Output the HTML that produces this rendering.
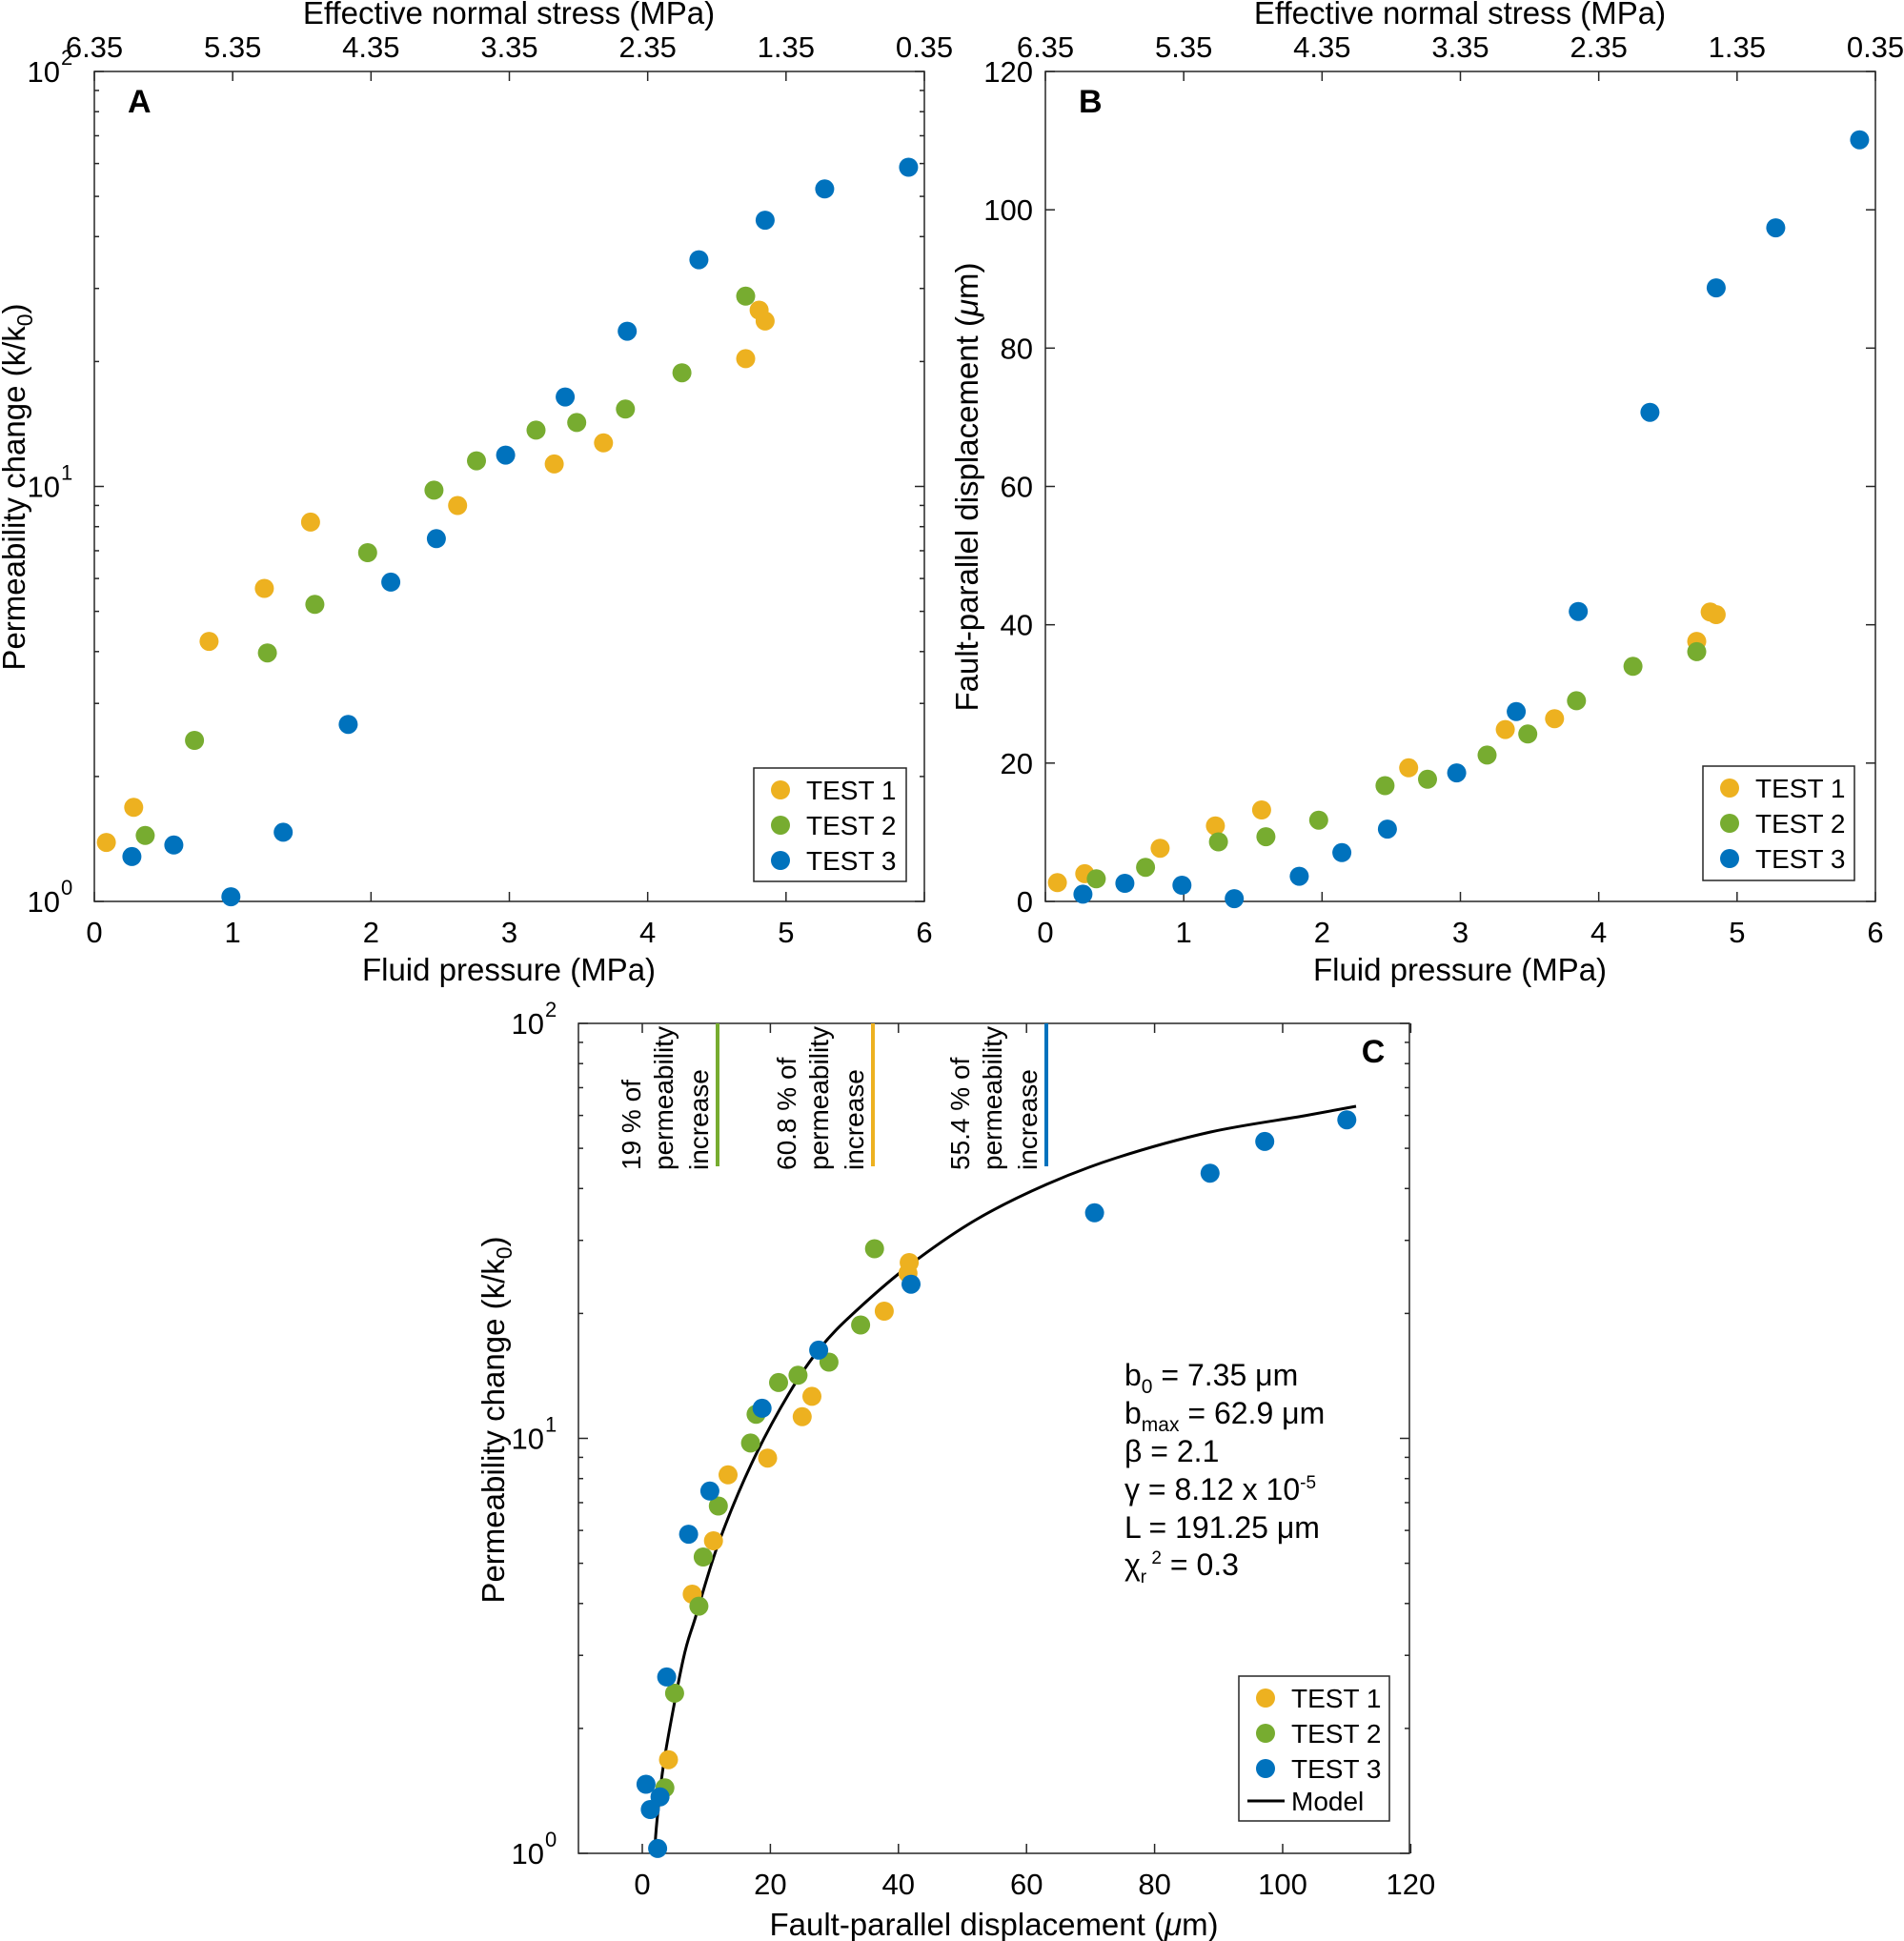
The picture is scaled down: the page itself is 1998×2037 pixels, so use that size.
<!DOCTYPE html>
<html><head><meta charset="utf-8">
<style>
html,body{margin:0;padding:0;background:#fff;}
svg{display:block;font-family:"Liberation Sans",Arial,sans-serif;}
</style></head>
<body>
<svg id="s" width="1998" height="2037" viewBox="0 0 1998 2037" xmlns="http://www.w3.org/2000/svg"></svg>
<script>
const S=document.getElementById('s');
let h='';
const O='#EDB120',G='#77AC30',B='#0072BD';
const TF=31,AF=33;
function line(x1,y1,x2,y2,c,w){h+=`<line x1="${x1}" y1="${y1}" x2="${x2}" y2="${y2}" stroke="${c||'#262626'}" stroke-width="${w||1.5}"/>`;}
function text(x,y,t,o){o=o||{};h+=`<text x="${x}" y="${y}" font-size="${o.fs||TF}" text-anchor="${o.a||'middle'}" fill="#000" ${o.w?'font-weight="bold"':''}>${t}</text>`;}
function dot(x,y,c){h+=`<circle cx="${x.toFixed(1)}" cy="${y.toFixed(1)}" r="10" fill="${c}"/>`;}
function logLbl(L,y,d){h+=`<text x="${L-36}" y="${y+11}" font-size="${TF}" text-anchor="end">10</text><text x="${L-35}" y="${y-7}" font-size="22" text-anchor="start">${d}</text>`;}

function panelAB(L,isLog,label){
  const R=L+871,T=75,Bt=946;
  h+=`<rect x="${L}" y="${T}" width="871" height="871" fill="none" stroke="#262626" stroke-width="1.5"/>`;
  for(let i=0;i<=6;i++){
    const x=L+i*871/6;
    line(x,Bt,x,Bt-10);line(x,T,x,T+10);
    text(x,989,String(i));
    text(x,60,(6.35-i).toFixed(2));
  }
  text(L+435,1029,'Fluid pressure (MPa)',{fs:AF});
  text(L+435,25,'Effective normal stress (MPa)',{fs:AF});
  if(isLog){
    for(let d=0;d<=2;d++){
      const y=Bt-d*435.5;
      line(L,y,L+10,y);line(R,y,R-10,y);
      logLbl(L,y,d);
      if(d<2)for(let m=2;m<=9;m++){const yy=y-Math.log10(m)*435.5;line(L,yy,L+5,yy);line(R,yy,R-5,yy);}
    }
    h+=`<text font-size="${AF}" text-anchor="middle" transform="translate(26,511) rotate(-90)">Permeability change (k/k<tspan font-size="23" dy="8">0</tspan><tspan dy="-8">)</tspan></text>`;
  } else {
    for(let v=0;v<=120;v+=20){
      const y=Bt-v*871/120;
      line(L,y,L+10,y);line(R,y,R-10,y);
      text(L-13,y+11,String(v),{a:'end'});
    }
    h+=`<text font-size="${AF}" text-anchor="middle" transform="translate(${L-71},511) rotate(-90)">Fault-parallel displacement (<tspan font-style="italic">μ</tspan>m)</text>`;
  }
  text(L+35,118,label,{fs:34,w:1,a:'start'});
}
panelAB(99,true,'A');
panelAB(1097,false,'B');

const A={O:[[175,1320],[220,1265],[344,1005],[435,922],[511,818],[753,792],[912,727],[993,694],[1227,562],[1249,486],[1259,503]],
G:[[239,1309],[320,1160],[440,1023],[518,947],[605,866],[714,768],[784,722],[882,674],[949,662],[1029,641],[1122,584],[1227,464]],
B:[[217,1342],[286,1324],[380,1405],[466,1304],[573,1135],[643,912],[718,844],[832,713],[930,622],[1032,519],[1150,407],[1259,345],[1357,296],[1495,262]]};
const Bd={O:[[175,1383],[220,1369],[344,1329],[435,1294],[511,1269],[753,1203],[912,1143],[993,1126],[1227,1005],[1249,959],[1259,963]],
G:[[239,1377],[320,1359],[440,1319],[518,1311],[605,1285],[714,1231],[784,1221],[882,1183],[949,1150],[1029,1098],[1122,1044],[1227,1021]],
B:[[217,1401],[286,1384],[380,1387],[466,1408],[573,1373],[643,1336],[718,1299],[832,1211],[930,1115],[1032,958],[1150,646],[1259,451],[1357,357],[1495,219]]};
const col={O:O,G:G,B:B};
for(const k of ['O','G','B']){
  A[k].forEach(p=>dot(p[0]/1.568,p[1]/1.493,col[k]));
  Bd[k].forEach(p=>dot(998+p[0]/1.568,p[1]/1.493,col[k]));
}
function legend(x,y,w,hh,model){
  h+=`<rect x="${x}" y="${y}" width="${w}" height="${hh}" fill="#fff" stroke="#262626" stroke-width="1.5"/>`;
  const items=[[O,'TEST 1'],[G,'TEST 2'],[B,'TEST 3']];
  items.forEach((it,i)=>{const yy=y+23+i*37;dot(x+28,yy,it[0]);text(x+55,yy+10,it[1],{fs:28,a:'start'});});
  if(model){const yy=y+23+3*36;line(x+9,yy,x+48,yy,'#000',3);text(x+55,yy+10,'Model',{fs:28,a:'start'});}
}
legend(791,806,160,119,false);
legend(1787,804,159,120,false);

{
  const L=607,R=1479,T=1074,Bt=1945;
  h+=`<rect x="${L}" y="${T}" width="${R-L}" height="${Bt-T}" fill="none" stroke="#262626" stroke-width="1.5"/>`;
  const px=v=>674+v*6.72;
  const ys=(Bt-T)/2;
  for(let v=0;v<=120;v+=20){const x=px(v);line(x,Bt,x,Bt-10);line(x,T,x,T+10);text(x,1988,String(v));}
  for(let d=0;d<=2;d++){
    const y=Bt-d*ys;
    line(L,y,L+10,y);line(R,y,R-10,y);
    logLbl(L,y,d);
    if(d<2)for(let m=2;m<=9;m++){const yy=y-Math.log10(m)*ys;line(L,yy,L+5,yy);line(R,yy,R-5,yy);}
  }
  h+=`<text font-size="${AF}" text-anchor="middle" transform="translate(529,1490) rotate(-90)">Permeability change (k/k<tspan font-size="23" dy="8">0</tspan><tspan dy="-8">)</tspan></text>`;
  text(1043,2031,'Fault-parallel displacement (<tspan font-style="italic">μ</tspan>m)',{fs:AF});
  text(1441,1115,'C',{fs:34,w:1});
  const marks=[[753,G,'19 % of'],[916,O,'60.8 % of'],[1098,B,'55.4 % of']];
  marks.forEach(m=>{
    line(m[0],T,m[0],1224,m[1],4);
    const lines=[m[2],'permeability','increase'];
    const off=[-81,-47,-10];
    lines.forEach((t,i)=>{h+=`<text font-size="28" text-anchor="start" transform="translate(${m[0]+off[i]},1228) rotate(-90)">${t}</text>`;});
  });
  const P=[[687,1941],[690,1905],[697.7,1843],[716.8,1742],[729.6,1698],[753.8,1620],[788.2,1537],[827.6,1463],[862,1413],[901.3,1373],[955.5,1327],[1024.3,1280],[1098.1,1243],[1171.9,1215],[1270.3,1188],[1368.6,1171],[1423,1161]];
  let d=`M${P[0][0]},${P[0][1]}`;
  for(let i=0;i<P.length-1;i++){
    const p0=P[Math.max(0,i-1)],p1=P[i],p2=P[i+1],p3=P[Math.min(P.length-1,i+2)];
    const c1=[p1[0]+(p2[0]-p0[0])/6,p1[1]+(p2[1]-p0[1])/6];
    const c2=[p2[0]-(p3[0]-p1[0])/6,p2[1]-(p3[1]-p1[1])/6];
    d+=` C${c1[0].toFixed(1)},${c1[1].toFixed(1)} ${c2[0].toFixed(1)},${c2[1].toFixed(1)} ${p2[0]},${p2[1]}`;
  }
  h+=`<path d="${d}" fill="none" stroke="#000" stroke-width="3"/>`;
  const C={O:[[316,1266],[355,990],[390,901],[414,791],[479,763],[536,694],[552,660],[671,518],[712,437],[710,455]],
  G:[[310,1313],[326,1155],[366,1010],[373,928],[398,843],[451,738],[460,690],[497,637],[529,625],[580,603],[632,541],[655,414]],
  B:[[279,1307],[286,1349],[302,1328],[298,1414],[313,1128],[349,890],[384,818],[470,680],[563,583],[715,473],[1017,354],[1207,288],[1297,235],[1432,199]]};
  for(const k of ['O','G','B'])C[k].forEach(p=>dot(500+p[0]/1.568,1050+p[1]/1.589,col[k]));
  const px0=1180,fs=32;
  h+=`<g font-size="${fs}">
  <text x="${px0}" y="1454">b<tspan font-size="21" dy="8">0</tspan><tspan dy="-8"> = 7.35 μm</tspan></text>
  <text x="${px0}" y="1494">b<tspan font-size="21" dy="8">max</tspan><tspan dy="-8"> = 62.9 μm</tspan></text>
  <text x="${px0}" y="1534">β = 2.1</text>
  <text x="${px0}" y="1574">γ = 8.12 x 10<tspan font-size="19" dy="-12">-5</tspan></text>
  <text x="${px0}" y="1614">L = 191.25 μm</text>
  <text x="${px0}" y="1653">χ<tspan font-size="19" dy="8">r</tspan><tspan font-size="19" dy="-20"> 2</tspan><tspan dy="12"> = 0.3</tspan></text>
  </g>`;
  legend(1300,1759,158,152,true);
}
S.innerHTML=h;
</script>
</body></html>
